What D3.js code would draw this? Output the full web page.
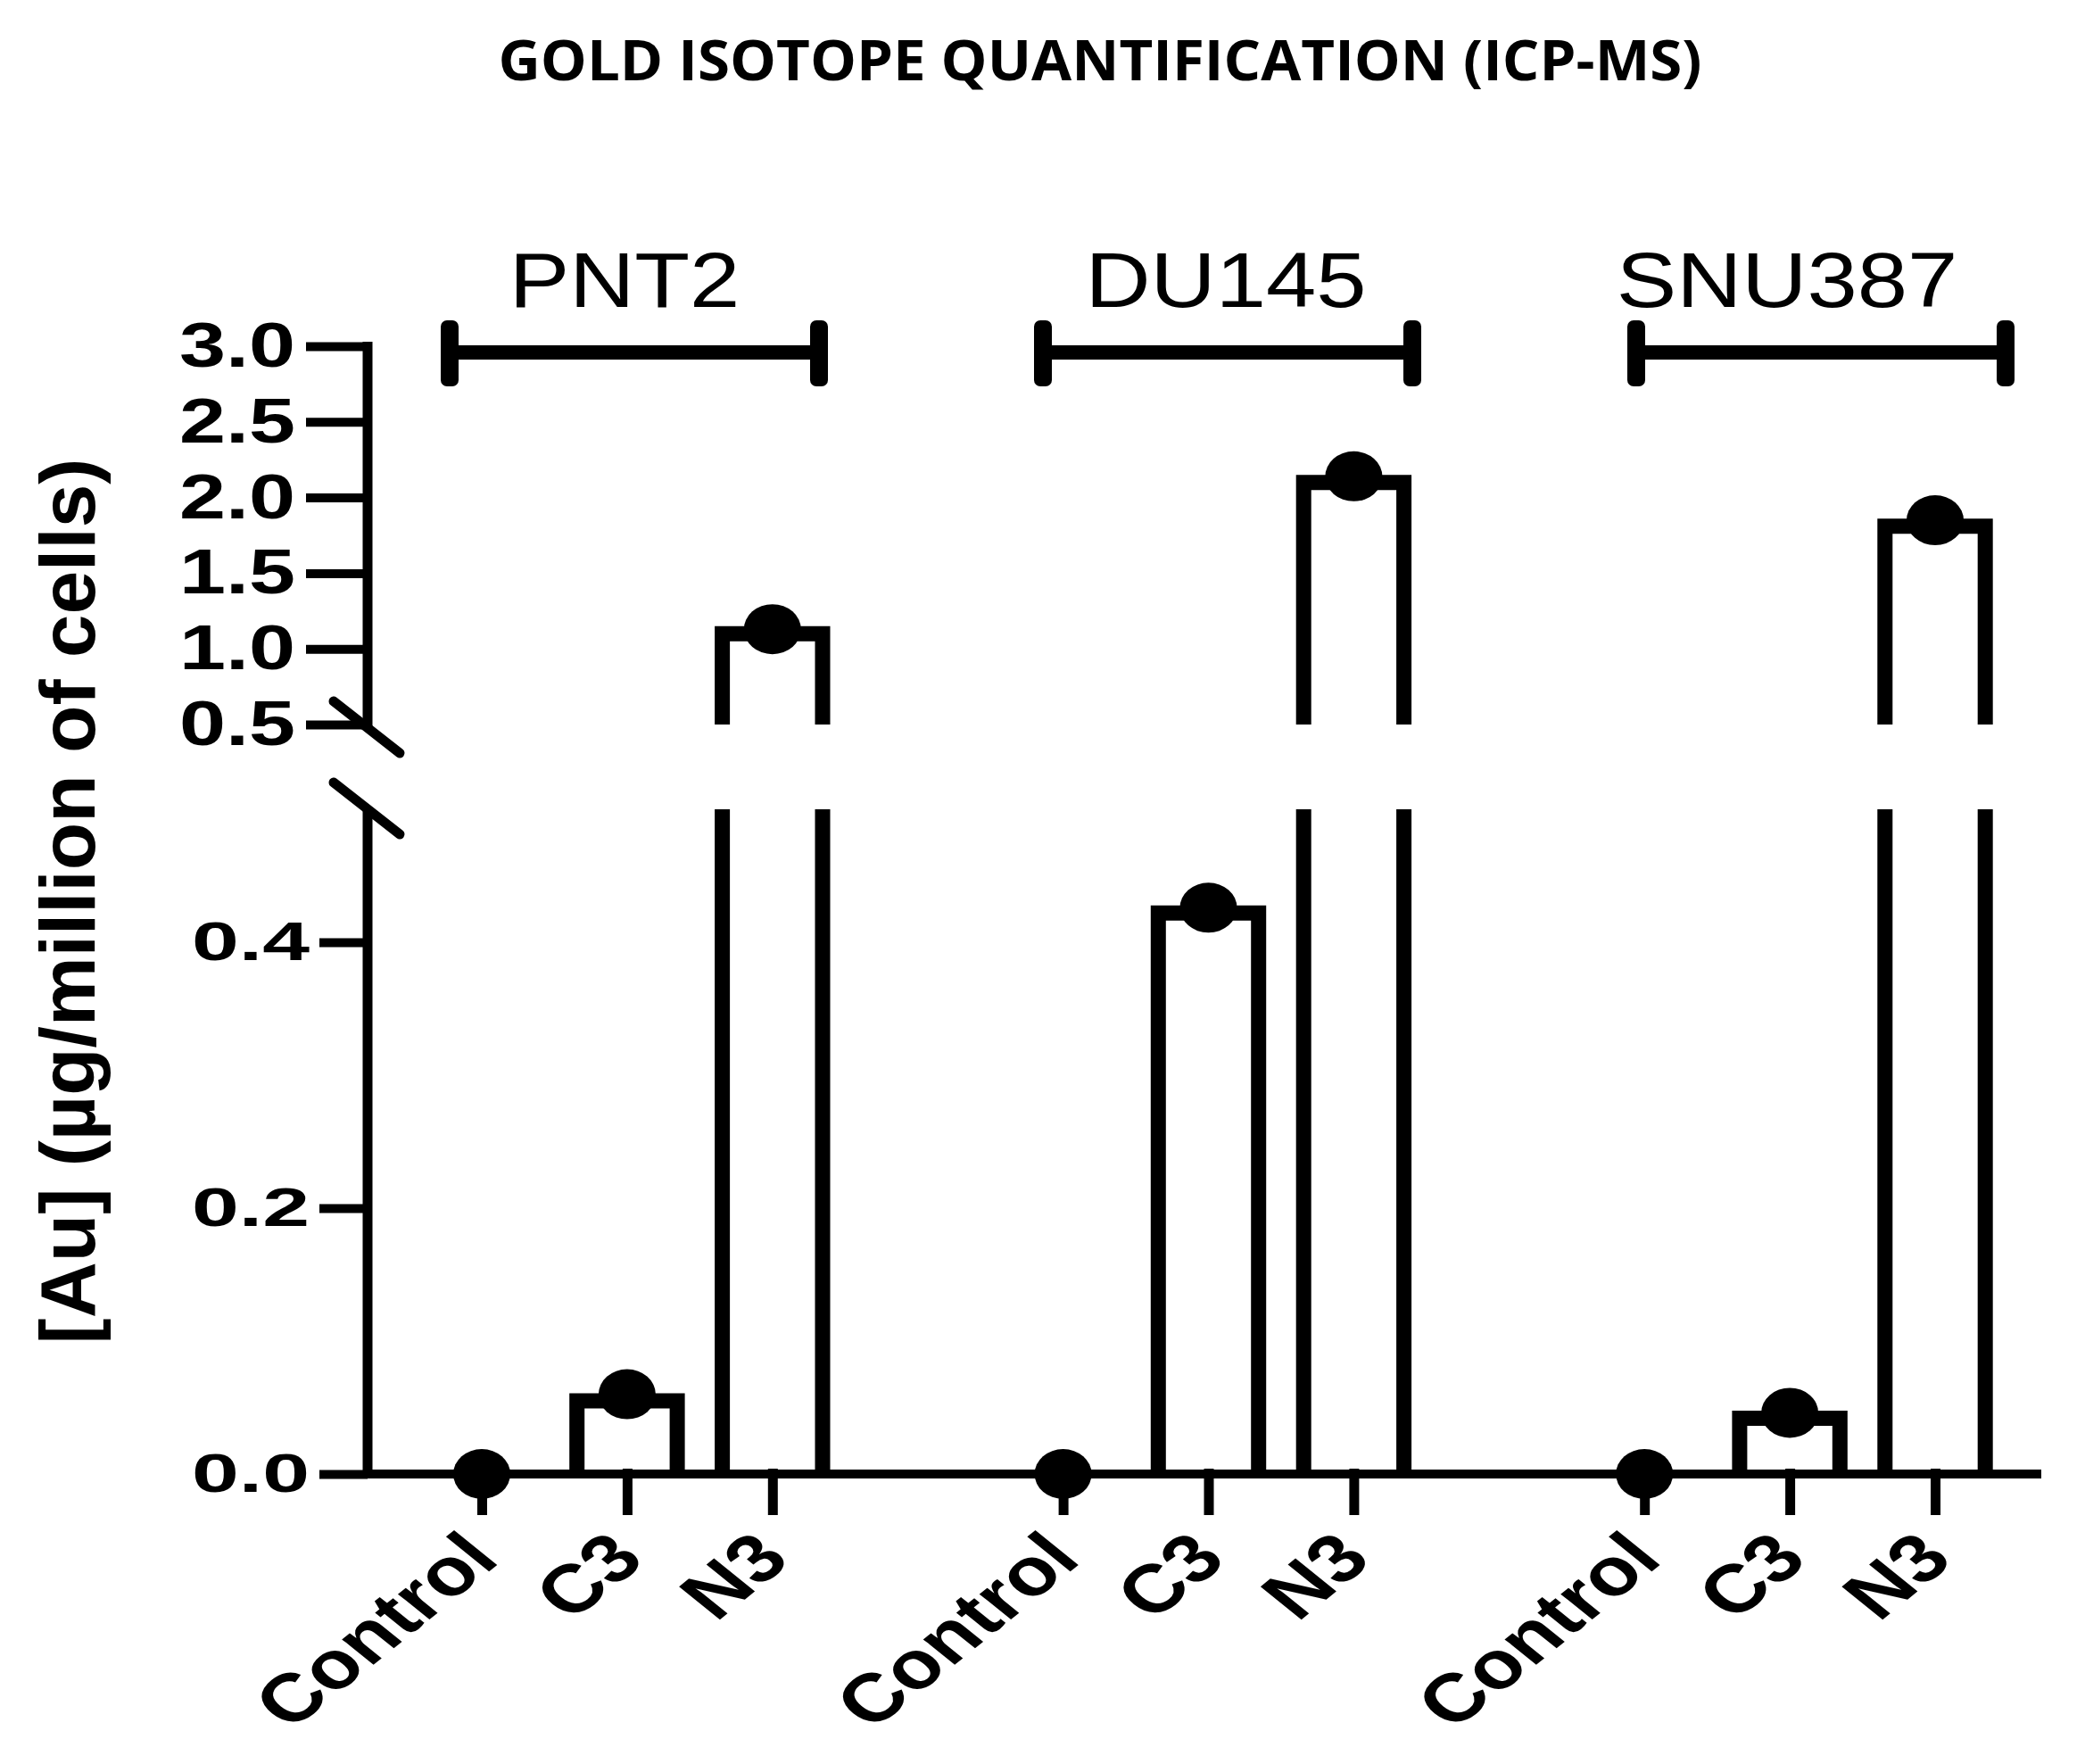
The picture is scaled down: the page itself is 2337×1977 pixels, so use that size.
<!DOCTYPE html>
<html><head><meta charset="utf-8">
<script src="https://cdn.jsdelivr.net/npm/d3@7"></script>
<style>body{margin:0;background:#fff}svg{display:block}</style>
</head><body>
<svg id="chart" width="2337" height="1977"></svg>
<script>
// ---------------- data ----------------
const groups = ["PNT2", "DU145", "SNU387"];
const treatments = ["Control", "C3", "N3"];
// bar (mean) values, µg / million cells, in treatment order
const meanPNT2   = [0, 0.055, 1.10];
const meanDU145  = [0, 0.422, 2.10];
const meanSNU387 = [0, 0.042, 1.81];
// individual data points drawn on the bars
const pointPNT2   = [0, 0.060, 1.13];
const pointDU145  = [0, 0.426, 2.14];
const pointSNU387 = [0, 0.046, 1.85];
const upperTicks = [0.5, 1.0, 1.5, 2.0, 2.5, 3.0];
const lowerTicks = [0.0, 0.2, 0.4];
const titleText = "GOLD ISOTOPE QUANTIFICATION (ICP-MS)";
const yTitleText = "[Au] (µg/million of cells)";

const means = {PNT2: meanPNT2, DU145: meanDU145, SNU387: meanSNU387};
const points = {PNT2: pointPNT2, DU145: pointDU145, SNU387: pointSNU387};

// ---------------- layout ----------------
const svg = d3.select("#chart");
const AX = 412;            // y axis x position
const BREAK = 0.5;         // axis break value
const labelNudge = [-11, -2, -38];   // group label offset from bracket centre

const slots = [];
groups.forEach((g, gi) => {
  treatments.forEach(t => slots.push(g + "|" + t));
  if (gi < groups.length - 1) slots.push("gap" + gi);
});
const x = d3.scalePoint().domain(slots).range([540, 2169]);
const yLow = d3.scaleLinear().domain([0, BREAK]).range([1652, 907]);
const yUp = d3.scaleLinear().domain([BREAK, 3.0]).range([812, 388]);

const barW = x.step() * 0.69;
const SW = 17;

const rows = [];
groups.forEach(g => treatments.forEach((t, i) => rows.push({
  g, t, key: g + "|" + t, v: means[g][i], p: points[g][i]
})));

// ---------------- title ----------------
svg.append("text")
  .attr("x", 1233).attr("y", 90)
  .attr("text-anchor", "middle")
  .attr("font-family", "'Open Sans', sans-serif")
  .attr("font-weight", 700)
  .attr("font-size", 62)
  .attr("textLength", 1349)
  .attr("lengthAdjust", "spacingAndGlyphs")
  .text(titleText);

// ---------------- bars ----------------
const barG = svg.append("g").attr("fill", "none").attr("stroke", "#000")
  .attr("stroke-width", SW).attr("stroke-linejoin", "miter");
rows.filter(d => d.v > 0).forEach(d => {
  const xl = x(d.key) - barW / 2, xr = x(d.key) + barW / 2;
  let p = d3.path();
  if (d.v <= BREAK) {
    p.moveTo(xl, yLow(0)); p.lineTo(xl, yLow(d.v)); p.lineTo(xr, yLow(d.v)); p.lineTo(xr, yLow(0));
  } else {
    p.moveTo(xl, yLow(0)); p.lineTo(xl, yLow(BREAK));
    p.moveTo(xr, yLow(BREAK)); p.lineTo(xr, yLow(0));
    p.moveTo(xl, yUp(BREAK)); p.lineTo(xl, yUp(d.v)); p.lineTo(xr, yUp(d.v)); p.lineTo(xr, yUp(BREAK));
  }
  barG.append("path").attr("d", p.toString());
});

// ---------------- x axis ----------------
const xAxis = d3.axisBottom(x).tickValues(rows.map(d => d.key)).tickSize(52).tickFormat("");
const gx = svg.append("g").attr("transform", `translate(0,${yLow(0) - 6})`).call(xAxis);
gx.select(".domain").remove();
gx.selectAll(".tick line").attr("stroke", "#000").attr("stroke-width", 11);
svg.append("line").attr("x1", AX).attr("x2", x.range()[1] + 119)
  .attr("y1", yLow(0)).attr("y2", yLow(0))
  .attr("stroke", "#000").attr("stroke-width", 10);

// x tick labels
svg.append("g").selectAll("text").data(rows).join("text")
  .attr("transform", d => `translate(${x(d.key) + 22},${yLow(0) + 98}) scale(1.24,1) rotate(-45)`)
  .attr("text-anchor", "end")
  .attr("font-family", "'Liberation Sans', Arial, sans-serif")
  .attr("font-weight", 700)
  .attr("font-size", 76)
  .text(d => d.t);

// ---------------- y axes ----------------
const upAxis = d3.axisLeft(yUp).tickValues(upperTicks).tickSize(69).tickPadding(12)
  .tickFormat(d3.format(".1f"));
const gU = svg.append("g").attr("transform", `translate(${AX},0)`).call(upAxis);
gU.select(".domain").remove();
gU.selectAll(".tick line").attr("stroke", "#000").attr("stroke-width", 10);
gU.selectAll(".tick text")
  .attr("fill", "#000")
  .attr("font-family", "'Liberation Sans', Arial, sans-serif")
  .attr("font-weight", 700).attr("font-size", 70)
  .attr("textLength", 130).attr("lengthAdjust", "spacingAndGlyphs");

const lowAxis = d3.axisLeft(yLow).tickValues(lowerTicks).tickSize(54).tickPadding(11)
  .tickFormat(d3.format(".1f"));
const gL = svg.append("g").attr("transform", `translate(${AX},0)`).call(lowAxis);
gL.select(".domain").remove();
gL.selectAll(".tick line").attr("stroke", "#000").attr("stroke-width", 10);
gL.selectAll(".tick text")
  .attr("fill", "#000")
  .attr("font-family", "'Liberation Sans', Arial, sans-serif")
  .attr("font-weight", 700).attr("font-size", 62)
  .attr("textLength", 132).attr("lengthAdjust", "spacingAndGlyphs");

// axis spines
svg.append("line").attr("x1", AX).attr("x2", AX)
  .attr("y1", yUp(3.0) - 5).attr("y2", yUp(BREAK) + 4)
  .attr("stroke", "#000").attr("stroke-width", 11);
svg.append("line").attr("x1", AX).attr("x2", AX)
  .attr("y1", yLow(BREAK)).attr("y2", yLow(0) + 5)
  .attr("stroke", "#000").attr("stroke-width", 11);
// break marks
[yUp(BREAK) + 4, yLow(BREAK)].forEach(yc => {
  svg.append("line").attr("x1", AX - 38).attr("y1", yc - 30)
    .attr("x2", AX + 36).attr("y2", yc + 28)
    .attr("stroke", "#000").attr("stroke-width", 11).attr("stroke-linecap", "round");
});

// y title
svg.append("text")
  .attr("transform", "translate(106,1010) rotate(-90)")
  .attr("text-anchor", "middle")
  .attr("font-family", "'Liberation Sans', Arial, sans-serif")
  .attr("font-weight", 700).attr("font-size", 87)
  .attr("textLength", 993).attr("lengthAdjust", "spacingAndGlyphs")
  .text(yTitleText);

// ---------------- dots ----------------
svg.append("g").selectAll("ellipse").data(rows).join("ellipse")
  .attr("cx", d => x(d.key))
  .attr("cy", d => d.p <= BREAK ? yLow(d.p) : yUp(d.p))
  .attr("rx", 32).attr("ry", 28).attr("fill", "#000");

// ---------------- group brackets ----------------
const bx = d3.scaleLinear().domain([0, 1]).range([504, 1169]);
const bracketLen = 414;
const BY = 395;
groups.forEach((g, gi) => {
  const x0 = bx(gi), x1 = x0 + bracketLen;
  const gg = svg.append("g");
  gg.append("line").attr("x1", x0).attr("x2", x1).attr("y1", BY).attr("y2", BY)
    .attr("stroke", "#000").attr("stroke-width", 16);
  [x0, x1].forEach(xx => gg.append("rect")
    .attr("x", xx - 10).attr("y", BY - 36).attr("width", 20).attr("height", 74)
    .attr("rx", 7).attr("fill", "#000"));
  const t = gg.append("text")
    .attr("x", (x0 + x1) / 2 + labelNudge[gi]).attr("y", 344)
    .attr("text-anchor", "middle")
    .attr("font-family", "'Liberation Sans', Arial, sans-serif")
    .attr("font-size", 88)
    .text(g);
  const w = t.node().getComputedTextLength();
  t.attr("textLength", w * 1.15).attr("lengthAdjust", "spacingAndGlyphs");
});
</script>
</body></html>
